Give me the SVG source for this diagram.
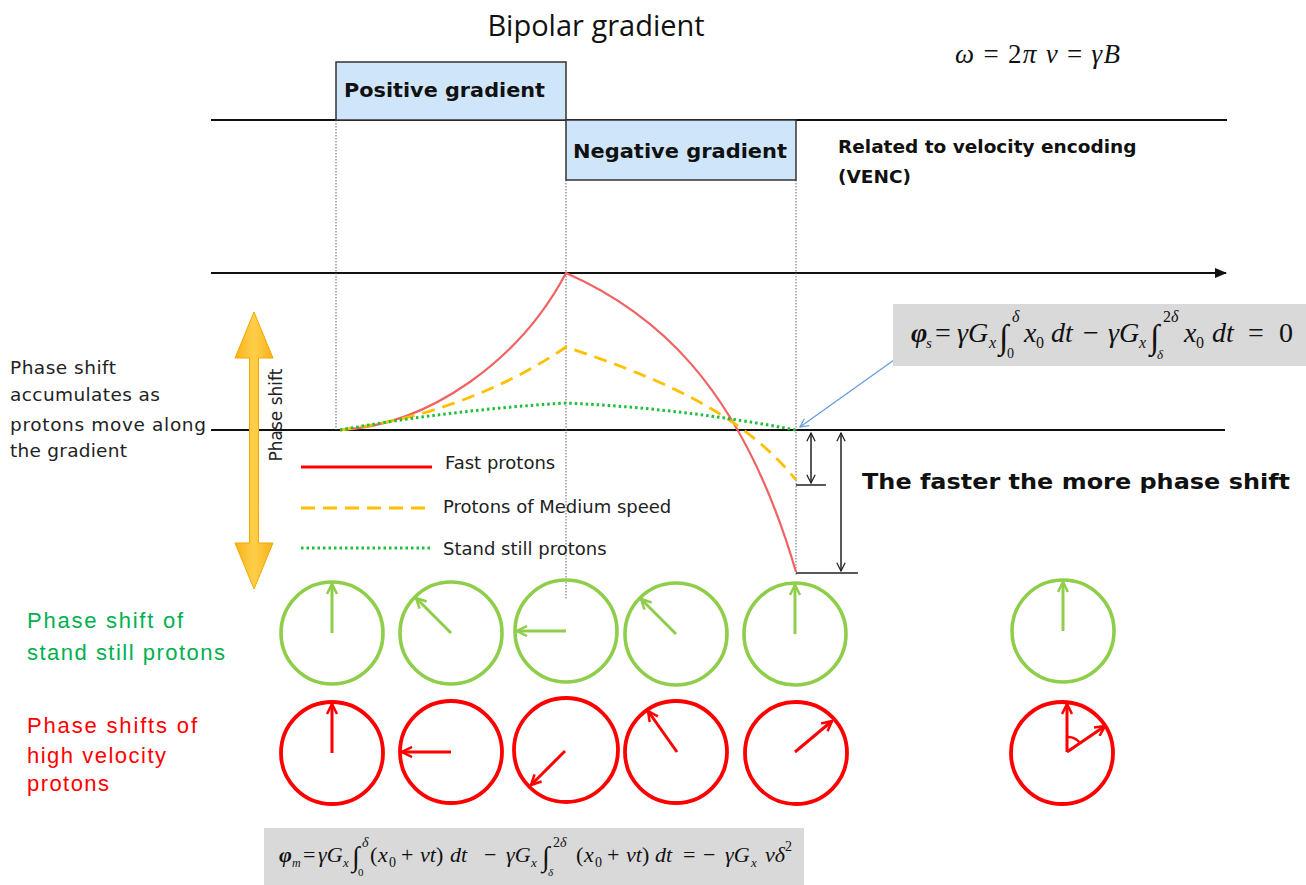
<svg xmlns="http://www.w3.org/2000/svg" width="1306" height="885" viewBox="0 0 1306 885">
<style>
.sans{font-family:"DejaVu Sans",Verdana,sans-serif;fill:#222}
.bold{font-family:"DejaVu Sans",Verdana,sans-serif;font-weight:bold;fill:#111}
.ar{font-family:"Liberation Sans",Arial,sans-serif}
.eq{font-family:"Liberation Serif","Times New Roman",serif;font-style:italic;fill:#111}
.up{font-style:normal}
.box{fill:#cfe6fa;stroke:#333;stroke-width:1.5}
.gbox{fill:#d9d9d9}
.vdot{stroke:#666;stroke-width:1;stroke-dasharray:1.5 1.5;fill:none}
.blk{stroke:#111;stroke-width:2;fill:none}
.gc{fill:none;stroke:#8fce4a;stroke-width:3.6}
.rc{fill:none;stroke:#ff0000;stroke-width:3.8}
.ga{stroke:#8fce4a;stroke-width:3;fill:none}
.ra{stroke:#ff0000;stroke-width:3;fill:none}
</style>
<defs>
<marker id="mg" viewBox="0 0 12 12" refX="11" refY="6" markerWidth="12" markerHeight="12" markerUnits="userSpaceOnUse" orient="auto"><path d="M1,1 L11,6 L1,11" fill="none" stroke="#8fce4a" stroke-width="2.5"/></marker>
<marker id="mr" viewBox="0 0 12 12" refX="11" refY="6" markerWidth="12" markerHeight="12" markerUnits="userSpaceOnUse" orient="auto"><path d="M1,1 L11,6 L1,11" fill="none" stroke="#ff0000" stroke-width="2.5"/></marker>
<marker id="mk" viewBox="0 0 12 12" refX="11" refY="6" markerWidth="10" markerHeight="10" markerUnits="userSpaceOnUse" orient="auto-start-reverse"><path d="M1,1 L11,6 L1,11" fill="none" stroke="#222" stroke-width="1.5"/></marker>
<marker id="mb" viewBox="0 0 12 12" refX="11" refY="6" markerWidth="10" markerHeight="10" markerUnits="userSpaceOnUse" orient="auto"><path d="M1,1 L11,6 L1,11" fill="none" stroke="#6a9bd8" stroke-width="1.5"/></marker>
<marker id="mf" viewBox="0 0 12 10" refX="11" refY="5" markerWidth="12" markerHeight="10" markerUnits="userSpaceOnUse" orient="auto"><path d="M0,0 L12,5 L0,10 Z" fill="#111"/></marker>
<linearGradient id="og" x1="0" y1="0" x2="1" y2="0"><stop offset="0" stop-color="#f7b21b"/><stop offset="0.5" stop-color="#ffcf4a"/><stop offset="1" stop-color="#f7b21b"/></linearGradient>
</defs>

<text x="596" y="36" text-anchor="middle" style="font-family:'Open Sans',sans-serif;font-size:29px;fill:#111">Bipolar gradient</text>

<g id="omega-eq"><text class="eq" x="955" y="63" font-size="27" textLength="165" lengthAdjust="spacing">ω <tspan class="up">=</tspan> <tspan class="up">2</tspan>π ν <tspan class="up">=</tspan> γB</text></g>

<g id="connectors">
<line class="blk" x1="211" y1="120" x2="1227" y2="120"/>
<line class="blk" x1="211" y1="273" x2="1226" y2="273" marker-end="url(#mf)"/>
<line class="blk" x1="211" y1="430" x2="1225" y2="430"/>
<line class="vdot" x1="336" y1="120" x2="336" y2="430"/>
<line class="vdot" x1="566" y1="180" x2="566" y2="600"/>
<line class="vdot" x1="796" y1="180" x2="796" y2="576"/>
<line x1="894" y1="360" x2="800" y2="427" stroke="#6a9bd8" stroke-width="1.3" marker-end="url(#mb)"/>
<line x1="811" y1="433" x2="811" y2="483" stroke="#222" stroke-width="1.5" marker-start="url(#mk)" marker-end="url(#mk)"/>
<line x1="796" y1="485" x2="826" y2="485" stroke="#222" stroke-width="1.5"/>
<line x1="841" y1="433" x2="841" y2="571" stroke="#222" stroke-width="1.5" marker-start="url(#mk)" marker-end="url(#mk)"/>
<line x1="796" y1="573" x2="858" y2="573" stroke="#222" stroke-width="1.5"/>
</g>

<g id="positive-gradient"><rect class="box" x="336" y="62" width="230" height="58"/><text class="bold" x="344" y="97" font-size="20" textLength="201" lengthAdjust="spacingAndGlyphs">Positive gradient</text></g>
<g id="negative-gradient"><rect class="box" x="566" y="120" width="230" height="60"/><text class="bold" x="573" y="158" font-size="20" textLength="214" lengthAdjust="spacingAndGlyphs">Negative gradient</text></g>

<g id="venc-note"><text class="bold" x="838" y="153" font-size="18.5">Related to velocity encoding</text><text class="bold" x="838" y="183" font-size="18.5">(VENC)</text></g>

<g id="curves">
<path d="M340,430 C430,425 520,360 566,273 C650,310 740,380 796,572" fill="none" stroke="#f26262" stroke-width="2.2"/>
<path d="M340,430 C420,420 500,392 566,347 C650,375 740,410 796,480" fill="none" stroke="#ffc000" stroke-width="2.8" stroke-dasharray="13 8"/>
<path d="M340,430 Q450,410 566,403 Q680,408 796,430" fill="none" stroke="#1fbf3a" stroke-width="3" stroke-dasharray="2.5 3"/>
</g>

<g id="legend">
<line x1="301" y1="467" x2="432" y2="467" stroke="#ff0000" stroke-width="3"/>
<text class="sans" x="445" y="469" font-size="18">Fast protons</text>
<line x1="301" y1="508" x2="432" y2="508" stroke="#ffc000" stroke-width="3" stroke-dasharray="14 8"/>
<text class="sans" x="443" y="513" font-size="18">Protons of Medium speed</text>
<line x1="301" y1="548" x2="432" y2="548" stroke="#1fbf3a" stroke-width="3" stroke-dasharray="2.5 3"/>
<text class="sans" x="443" y="555" font-size="18">Stand still protons</text>
</g>

<g id="phase-arrow">
<path d="M254,312 L273,358 L258.5,358 L258.5,543 L273,543 L254,589 L235,543 L249.5,543 L249.5,358 L235,358 Z" fill="url(#og)" stroke="#f2a900" stroke-width="1"/>
<text class="sans" transform="translate(282,415) rotate(-90)" text-anchor="middle" font-size="17">Phase shift</text>
</g>

<g id="left-note" class="sans" font-size="18.5">
<text x="10" y="374" textLength="106">Phase shift</text>
<text x="10" y="401" textLength="150">accumulates as</text>
<text x="10" y="431" textLength="196">protons move along</text>
<text x="10" y="457" textLength="117">the gradient</text>
</g>

<g id="phis-eq">
<rect class="gbox" x="893" y="304" width="413" height="62"/>
<text class="eq" font-size="28">
<tspan x="911" y="342" font-weight="bold">φ</tspan><tspan x="926" y="348" font-size="15">s</tspan>
<tspan class="up" x="935" y="342">=</tspan>
<tspan x="957" y="342">γG</tspan><tspan x="989" y="348" font-size="16">x</tspan>
<tspan class="up" x="999" y="348" font-size="34">∫</tspan><tspan x="1012" y="322" font-size="16">δ</tspan><tspan class="up" x="1007" y="358" font-size="14">0</tspan>
<tspan x="1024" y="342">x</tspan><tspan class="up" x="1036" y="348" font-size="16">0</tspan>
<tspan x="1051" y="342">dt</tspan>
<tspan class="up" x="1083" y="342">−</tspan>
<tspan x="1108" y="342">γG</tspan><tspan x="1139" y="348" font-size="16">x</tspan>
<tspan class="up" x="1150" y="348" font-size="34">∫</tspan><tspan class="up" x="1163" y="322" font-size="16">2</tspan><tspan x="1171" y="322" font-size="16">δ</tspan><tspan x="1157" y="359" font-size="13">δ</tspan>
<tspan x="1184" y="342">x</tspan><tspan class="up" x="1196" y="348" font-size="16">0</tspan>
<tspan x="1212" y="342">dt</tspan>
<tspan class="up" x="1248" y="342">=</tspan>
<tspan class="up" x="1279" y="342">0</tspan>
</text>
</g>

<g id="faster-note"><text class="bold" x="862" y="489" font-size="22" textLength="428" lengthAdjust="spacingAndGlyphs">The faster the more phase shift</text></g>

<g id="label-still" class="ar" font-size="22" fill="#00b050">
<text x="27" y="628" textLength="156">Phase shift of</text>
<text x="27" y="660" textLength="198">stand still protons</text>
</g>
<g id="label-fast" class="ar" font-size="22" fill="#ff0000">
<text x="27" y="733" textLength="170">Phase shifts of</text>
<text x="27" y="763" textLength="139">high velocity</text>
<text x="27" y="791" textLength="82">protons</text>
</g>

<g id="still-1"><circle class="gc" cx="332" cy="633" r="51"/><line class="ga" x1="332" y1="633" x2="332" y2="584" marker-end="url(#mg)"/></g>
<g id="still-2"><circle class="gc" cx="451" cy="633" r="51"/><line class="ga" x1="451" y1="633" x2="416" y2="598" marker-end="url(#mg)"/></g>
<g id="still-3"><circle class="gc" cx="566" cy="631" r="51"/><line class="ga" x1="566" y1="631" x2="517" y2="631" marker-end="url(#mg)"/></g>
<g id="still-4"><circle class="gc" cx="676" cy="634" r="51"/><line class="ga" x1="676" y1="634" x2="641" y2="599" marker-end="url(#mg)"/></g>
<g id="still-5"><circle class="gc" cx="795" cy="634" r="51"/><line class="ga" x1="795" y1="634" x2="795" y2="585" marker-end="url(#mg)"/></g>
<g id="still-6"><circle class="gc" cx="1063" cy="631" r="51"/><line class="ga" x1="1063" y1="631" x2="1063" y2="582" marker-end="url(#mg)"/></g>

<g id="fast-1"><circle class="rc" cx="332" cy="753" r="51"/><line class="ra" x1="332" y1="753" x2="332" y2="704" marker-end="url(#mr)"/></g>
<g id="fast-2"><circle class="rc" cx="451" cy="752" r="51"/><line class="ra" x1="451" y1="752" x2="402" y2="752" marker-end="url(#mr)"/></g>
<g id="fast-3"><circle class="rc" cx="566" cy="750" r="52"/><line class="ra" x1="565" y1="751" x2="531" y2="785" marker-end="url(#mr)"/></g>
<g id="fast-4"><circle class="rc" cx="676" cy="752" r="51"/><line class="ra" x1="677" y1="752" x2="648" y2="711" marker-end="url(#mr)"/></g>
<g id="fast-5"><circle class="rc" cx="796" cy="753" r="51"/><line class="ra" x1="795" y1="752" x2="832" y2="721" marker-end="url(#mr)"/></g>
<g id="fast-6"><circle class="rc" cx="1062" cy="753" r="51"/><line class="ra" x1="1067" y1="752" x2="1067" y2="704" marker-end="url(#mr)"/><line class="ra" x1="1067" y1="752" x2="1105" y2="726" marker-end="url(#mr)"/><path d="M1067,737 A15,15 0 0 1 1080,743" fill="none" stroke="#ff0000" stroke-width="2.5"/></g>

<g id="phim-eq">
<rect class="gbox" x="264" y="828" width="540" height="57"/>
<text class="eq" font-size="22">
<tspan x="279" y="862" font-weight="bold">φ</tspan><tspan x="292" y="867" font-size="12">m</tspan>
<tspan class="up" x="303" y="862">=</tspan>
<tspan x="318" y="862">γG</tspan><tspan x="343" y="867" font-size="13">x</tspan>
<tspan class="up" x="352" y="866" font-size="28">∫</tspan><tspan x="362" y="847" font-size="14">δ</tspan><tspan class="up" x="358" y="876" font-size="11">0</tspan>
<tspan class="up" x="370" y="862">(</tspan><tspan x="378" y="862">x</tspan><tspan class="up" x="389" y="867" font-size="14">0</tspan>
<tspan class="up" x="401" y="862">+</tspan><tspan x="420" y="862">vt</tspan><tspan class="up" x="436" y="862">)</tspan>
<tspan x="450" y="862">dt</tspan>
<tspan class="up" x="484" y="862">−</tspan>
<tspan x="506" y="862">γG</tspan><tspan x="531" y="867" font-size="13">x</tspan>
<tspan class="up" x="542" y="866" font-size="28">∫</tspan><tspan class="up" x="553" y="847" font-size="14">2</tspan><tspan x="560" y="847" font-size="14">δ</tspan><tspan x="548" y="876" font-size="11">δ</tspan>
<tspan class="up" x="576" y="862">(</tspan><tspan x="584" y="862">x</tspan><tspan class="up" x="595" y="867" font-size="14">0</tspan>
<tspan class="up" x="607" y="862">+</tspan><tspan x="626" y="862">vt</tspan><tspan class="up" x="642" y="862">)</tspan>
<tspan x="655" y="862">dt</tspan>
<tspan class="up" x="683" y="862">=</tspan>
<tspan class="up" x="703" y="862">−</tspan>
<tspan x="725" y="862">γG</tspan><tspan x="751" y="867" font-size="13">x</tspan>
<tspan x="765" y="862">vδ</tspan><tspan class="up" x="785" y="851" font-size="14">2</tspan>
</text>
</g>
</svg>
